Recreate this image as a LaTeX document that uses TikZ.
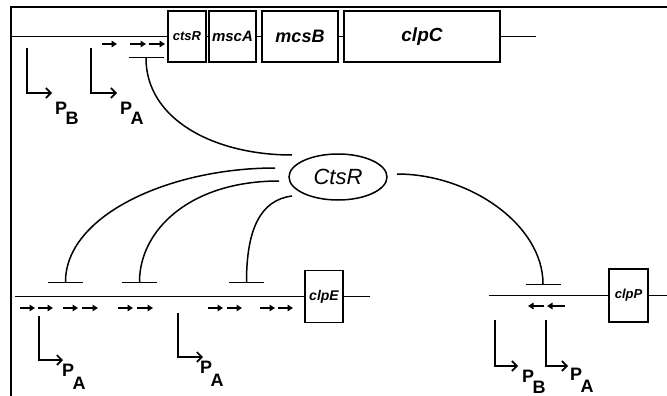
\documentclass[tikz,border=0pt]{standalone}
\usepackage{fontspec}
\setmainfont{Liberation Sans}
\usetikzlibrary{arrows.meta,shapes.geometric}
\newcommand\promlab[2][11pt]{P\kern-1.5pt\raisebox{-#1}{#2}}
\newcommand\fsz[1]{\fontsize{#1}{#1}\selectfont}
\begin{document}
\begin{tikzpicture}[x=1pt,y=-1pt,
  gene/.style={draw,line width=1.6pt,rectangle,inner sep=0pt,font=\bfseries\itshape},
  dna/.style={line width=1.5pt},
  repress/.style={line width=1.5pt,{Bar[width=35pt]}-},
  site/.style={line width=1.8pt,-{Triangle[length=5.5pt,width=6.5pt]}},
  prom/.style={line width=1.6pt,-{Straight Barb[length=5pt,width=10pt]}},
  plab/.style={font=\bfseries\fsz{18},inner sep=0pt,anchor=north west}]
\useasboundingbox (0,0) rectangle (667,396);
% frame
\draw[line width=2pt] (667,7) -- (11,7) -- (11,396);

% ---- top operon
\node[gene,minimum width=38pt,minimum height=51pt,font=\bfseries\itshape\fsz{13}] (ctsR) at (187,36.5) {ctsR};
\node[gene,minimum width=47pt,minimum height=51pt,font=\bfseries\itshape\fsz{15}] (mscA) at (232.5,36.5) {mscA};
\node[gene,minimum width=76pt,minimum height=51pt,font=\bfseries\itshape\fsz{18}] (mcsB) at (300,36.5) {mcsB};
\node[gene,minimum width=156pt,minimum height=51pt,font=\bfseries\itshape\fsz{19}] (clpC) at (422,36.5) {clpC};
\coordinate (t0) at (12,36.5);
\coordinate (t1) at (536,36.5);
\draw[dna] (t0) -- (ctsR.west);
\draw[dna] (ctsR.east) -- (mscA.west);
\draw[dna] (mscA.east) -- (mcsB.west);
\draw[dna] (mcsB.east) -- (clpC.west);
\draw[dna] (clpC.east) -- (t1);
% sites
\draw[site] (102,44) -- (117,44);
\draw[site] (130,44) -- (146,44);
\draw[site] (149,44) -- (165,44);
% promoters
\draw[prom] (27,48) |- (52,93);
\draw[prom] (91,48) |- (117,93);
\node[plab] (pB1) at (55,102) {\promlab[10pt]{B}};
\node[plab] (pA1) at (120,102) {\promlab[10pt]{A}};

% ---- repressor
\node[draw,ellipse,line width=1.5pt,minimum width=98pt,minimum height=46pt,inner sep=0pt,font=\itshape\fsz{22}] (prot) at (338,177) {CtsR};
\coordinate (e0) at (292,155);
\coordinate (e1) at (275,168);
\coordinate (e2) at (279,181);
\coordinate (e3) at (292,196);
\coordinate (e4) at (397,174);

\coordinate (op0) at (146,57);
\coordinate (op1) at (65.5,283);
\coordinate (op2) at (139.5,283);
\coordinate (op3) at (246.5,283);
\coordinate (op4) at (543,285);

\draw[repress] (op0) .. controls +(0,63) and +(-77,0) .. (e0);
\draw[repress] (op1) .. controls +(0,-68) and +(-105,0) .. (e1);
\draw[repress] (op2) .. controls +(0,-53) and +(-89,0) .. (e2);
\draw[repress] (op3) .. controls +(0,-53) and +(-32,4) .. (e3);
\draw[repress] (op4) .. controls +(0,-60) and +(73,0) .. (e4);

% ---- clpE
\node[gene,minimum width=38pt,minimum height=52pt,font=\bfseries\itshape\fsz{14}] (clpE) at (324,296.5) {clpE};
\coordinate (l0) at (15,296.5);
\coordinate (l1) at (370,296.5);
\draw[dna] (l0) -- (clpE.west);
\draw[dna] (clpE.east) -- (l1);
\foreach \a/\b in {20/35,38/53,63/78,82/98,118/133,137/153,208/223,227/242,260/275,278/293}
  \draw[site] (\a,308) -- (\b,308);
\draw[prom] (39,316) |- (63,360);
\draw[prom] (178,313) |- (203,357);
\node[plab] (pA2) at (62,364) {\promlab[13pt]{A}};
\node[plab] (pA3) at (200,361) {\promlab[13pt]{A}};

% ---- clpP
\node[gene,minimum width=39pt,minimum height=53pt,font=\bfseries\itshape\fsz{13}] (clpP) at (628.5,295.5) {clpP};
\coordinate (r0) at (489,295.5);
\coordinate (r1) at (667,295.5);
\draw[dna] (r0) -- (clpP.west);
\draw[dna] (clpP.east) -- (r1);
\draw[site] (544,306) -- (528,306);
\draw[site] (565,306) -- (547,306);
\draw[prom] (495,320) |- (518,366);
\draw[prom] (546,320) |- (568,366);
\node[plab] (pB2) at (522,370) {\promlab[11pt]{B}};
\node[plab] (pA4) at (570,368) {\promlab[12pt]{A}};
\end{tikzpicture}
\end{document}
